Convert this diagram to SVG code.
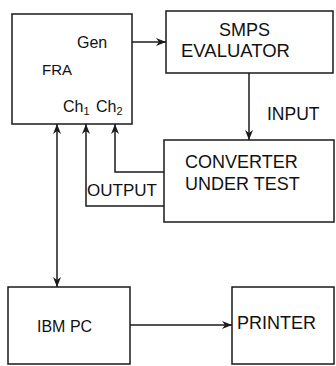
<svg xmlns="http://www.w3.org/2000/svg" width="336" height="366" viewBox="0 0 336 366">
<style>
.box{fill:none;stroke:#1a1a1a;stroke-width:1.5}
.ln{fill:none;stroke:#1a1a1a;stroke-width:1.5}
text{font-family:"Liberation Sans",Arial,sans-serif;fill:#111}
</style>
<defs>
<marker id="ah" viewBox="0 0 10 8" refX="10" refY="4" markerWidth="10" markerHeight="8" markerUnits="userSpaceOnUse" orient="auto-start-reverse">
<path d="M0,0 L10,4 L0,8 L3,4 Z" fill="#1a1a1a"/>
</marker>
</defs>
<rect width="336" height="366" fill="#fff"/>
<g id="fra">
<rect class="box" x="12" y="14" width="120" height="110"/>
<text x="77" y="48" font-size="16">Gen</text>
<text x="42" y="75" font-size="15">FRA</text>
<text x="63" y="112" font-size="16">Ch<tspan font-size="11" dy="3">1</tspan></text>
<text x="96" y="112" font-size="16">Ch<tspan font-size="11" dy="3">2</tspan></text>
</g>
<g id="smps">
<rect class="box" x="166" y="11" width="167" height="62"/>
<text x="219" y="36" font-size="18">SMPS</text>
<text x="181" y="57" font-size="18.5">EVALUATOR</text>
</g>
<g id="converter">
<rect class="box" x="164" y="140" width="170" height="82"/>
<text x="185" y="168" font-size="18">CONVERTER</text>
<text x="185" y="190" font-size="18">UNDER TEST</text>
</g>
<g id="ibmpc">
<rect class="box" x="8" y="287" width="122" height="77"/>
<text x="37" y="332" font-size="16">IBM PC</text>
</g>
<g id="printer">
<rect class="box" x="232" y="287" width="102" height="77"/>
<text x="237" y="329" font-size="18">PRINTER</text>
</g>
<g id="connectors">
<path class="ln" d="M132,42 H166" marker-end="url(#ah)"/>
<path class="ln" d="M249,73 V140" marker-end="url(#ah)"/>
<path class="ln" d="M57,124 V287" marker-start="url(#ah)" marker-end="url(#ah)"/>
<path class="ln" d="M164,206 H86 V124" marker-end="url(#ah)"/>
<path class="ln" d="M164,172 H115 V124" marker-end="url(#ah)"/>
<path class="ln" d="M130,325 H232" marker-end="url(#ah)"/>
<text x="267" y="120" font-size="17.5">INPUT</text>
<text x="87" y="196" font-size="17">OUTPUT</text>
</g>
</svg>
